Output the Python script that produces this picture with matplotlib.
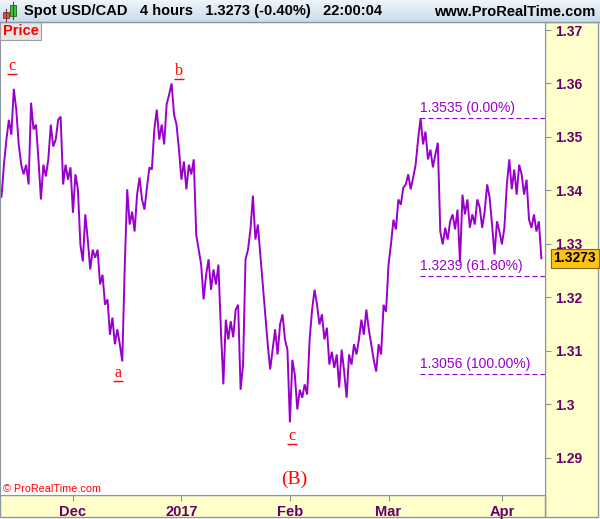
import numpy as np
import matplotlib
matplotlib.use("Agg")
import matplotlib.pyplot as plt
from matplotlib.patches import Rectangle
from matplotlib.colors import LinearSegmentedColormap
import matplotlib.transforms as mtransforms

plt.rcParams['font.family'] = ['Liberation Sans', 'DejaVu Sans']

# USD/CAD, one reading every half trading day (trading days counted from 1 Dec 2016)
price = [
    1.3388, 1.3448, 1.3495, 1.3532, 1.3504, 1.3590, 1.3551, 1.3486, 1.3448, 1.3430,
    1.3448, 1.3411, 1.3564, 1.3514, 1.3523, 1.3458, 1.3383, 1.3448, 1.3426, 1.3458,
    1.3523, 1.3482, 1.3495, 1.3532, 1.3538, 1.3411, 1.3448, 1.3420, 1.3443, 1.3358,
    1.3430, 1.3402, 1.3299, 1.3267, 1.3355, 1.3308, 1.3252, 1.3289, 1.3274, 1.3289,
    1.3224, 1.3242, 1.3186, 1.3196, 1.3130, 1.3162, 1.3112, 1.3140, 1.3112, 1.3080,
    1.3257, 1.3402, 1.3336, 1.3360, 1.3323, 1.3392, 1.3424, 1.3383, 1.3364, 1.3405,
    1.3443, 1.3439, 1.3514, 1.3551, 1.3495, 1.3523, 1.3486, 1.3561, 1.3579, 1.3600,
    1.3542, 1.3523, 1.3476, 1.3420, 1.3454, 1.3402, 1.3448, 1.3430, 1.3458, 1.3317,
    1.3289, 1.3261, 1.3196, 1.3242, 1.3271, 1.3214, 1.3252, 1.3224, 1.3261, 1.3140,
    1.3037, 1.3158, 1.3121, 1.3155, 1.3125, 1.3177, 1.3186, 1.3027, 1.3074, 1.3271,
    1.3289, 1.3327, 1.3390, 1.3308, 1.3336, 1.3280, 1.3224, 1.3168, 1.3112, 1.3065,
    1.3102, 1.3140, 1.3093, 1.3149, 1.3168, 1.3121, 1.3102, 1.2966, 1.3083, 1.3055,
    1.2990, 1.3027, 1.3012, 1.3037, 1.3018, 1.3121, 1.3177, 1.3214, 1.3186, 1.3149,
    1.3168, 1.3121, 1.3143, 1.3074, 1.3098, 1.3068, 1.3093, 1.3031, 1.3102, 1.3061,
    1.3012, 1.3093, 1.3074, 1.3112, 1.3093, 1.3121, 1.3158, 1.3130, 1.3177, 1.3140,
    1.3112, 1.3083, 1.3061, 1.3112, 1.3093, 1.3186, 1.3173, 1.3261, 1.3299, 1.3345,
    1.3327, 1.3383, 1.3373, 1.3405, 1.3411, 1.3430, 1.3402, 1.3424, 1.3448, 1.3495,
    1.3535, 1.3486, 1.3510, 1.3458, 1.3476, 1.3443, 1.3467, 1.3489, 1.3323, 1.3299,
    1.3330, 1.3308, 1.3342, 1.3355, 1.3327, 1.3364, 1.3265, 1.3392, 1.3355, 1.3383,
    1.3330, 1.3355, 1.3336, 1.3383, 1.3368, 1.3330, 1.3360, 1.3411, 1.3387, 1.3336,
    1.3280, 1.3342, 1.3323, 1.3299, 1.3330, 1.3411, 1.3458, 1.3402, 1.3439, 1.3392,
    1.3448, 1.3430, 1.3392, 1.3420, 1.3345, 1.3330, 1.3355, 1.3323, 1.3342, 1.3273,
]
first_day = -14.5
day = first_day + 0.5 * np.arange(len(price))
last_price = 1.3273

month_start = ["2016-12-01", "2017-01-02", "2017-02-01", "2017-03-01", "2017-04-03"]
month_label = ["Dec", "2017", "Feb", "Mar", "Apr"]
month_day = np.busday_count("2016-12-01", month_start)

ytick_vals = [1.29, 1.30, 1.31, 1.32, 1.33, 1.34, 1.35, 1.36, 1.37]
ytick_labels = ["1.29", "1.3", "1.31", "1.32", "1.33", "1.34", "1.35", "1.36", "1.37"]

fib_price = [1.3535, 1.3239, 1.3056]
fib_label = ["1.3535 (0.00%)", "1.3239 (61.80%)", "1.3056 (100.00%)"]
fib_start = 70.4

wave_label = ["c", "b", "a", "c"]
wave_day = [-12.4, 21.5, 9.1, 44.4]
wave_price = [1.3626, 1.3615, 1.3050, 1.2932]

purple = '#9900CC'
axis_txt = '#660066'
edge = '#8C969E'
yellow = '#FFFFCC'

W, H = 600, 519
fig = plt.figure(figsize=(W / 100, H / 100), dpi=100, facecolor='white')

# background: yellow axis panels
bg = fig.add_axes([0, 0, 1, 1])
bg.set_xlim(0, W)
bg.set_ylim(H, 0)
bg.axis('off')
bg.add_patch(Rectangle((545, 22), 53, 495, fc=yellow, ec=edge, lw=1))
bg.add_patch(Rectangle((0, 495), 545, 22, fc=yellow, ec=edge, lw=1))

# main chart
ax = fig.add_axes([0, 24 / H, 545 / W, 473 / H])
ax.set_facecolor('white')
ax.plot(day, price, color=purple, lw=1.4, solid_joinstyle='miter')

xmax = 95.74
ax.hlines(fib_price, fib_start, xmax, colors=purple, lw=0.8, linestyles=(0, (4.5, 2.7)))
for p, s in zip(fib_price, fib_label):
    ax.text(fib_start, p, s, color=purple, fontsize=10, ha='left', va='bottom',
            transform=mtransforms.offset_copy(ax.transData, fig=fig, x=0, y=3, units='dots'))

under = mtransforms.offset_copy(ax.transData, fig=fig, x=0, y=-4, units='dots')
for s, d, p in zip(wave_label, wave_day, wave_price):
    ax.text(d, p, s, color='#FF0000', family='Liberation Serif', fontsize=11.5,
            ha='center', va='baseline')
    ax.plot([d], [p], marker='_', markersize=6.5, mew=1, color='#FF0000', transform=under)

ax.text(44.8, 1.2859, "(B)", color='#FF0000', family='Liberation Serif', fontsize=14,
        ha='center', va='center')
ax.text(3 / 545, 6 / 473, "© ProRealTime.com", color='#FF0000', fontsize=7.8,
        transform=ax.transAxes, ha='left', va='center')

ax.text(553.5 / 545, last_price, "1.3273", transform=ax.get_yaxis_transform(),
        ha='left', va='center', fontsize=10, fontweight='bold', color='black',
        bbox=dict(boxstyle='square,pad=0.18', fc='#FFC20E', ec='#7A6A30', lw=0.8))

ax.set_xlim(-14.8, xmax)
ax.set_ylim(1.2830, 1.3715)
ax.set_yticks(ytick_vals, labels=ytick_labels, fontweight='bold')
ax.set_xticks(month_day, labels=month_label, fontweight='bold')
ax.yaxis.tick_right()
ax.tick_params(axis='y', length=4, color=edge, labelcolor=axis_txt, labelsize=10, pad=3)
ax.tick_params(axis='x', length=4, color=edge, labelcolor=axis_txt, labelsize=10.5, pad=3.5)
for sp in ax.spines.values():
    sp.set_color(edge)

# overlay: header bar, icon and "Price" tab
top = fig.add_axes([0, 0, 1, 1], facecolor='none')
grad = LinearSegmentedColormap.from_list('hdr', ['#EEF5FB', '#C8DBEA'])
top.imshow(np.linspace(0, 1, 30).reshape(-1, 1), cmap=grad, extent=(0, W, 22, 0),
           aspect='auto', interpolation='bilinear')
top.plot([0, W], [22, 22], color=edge, lw=1)
top.set_xlim(0, W)
top.set_ylim(H, 0)
top.axis('off')

top.plot([6, 6], [9, 21], color='#803030', lw=0.8)
top.add_patch(Rectangle((3, 12), 6, 6, fc='#E05050', ec='#803030', lw=0.6))
top.plot([13, 13], [2, 19], color='#206020', lw=0.8)
top.add_patch(Rectangle((10, 5), 6, 11, fc='#40C040', ec='#206020', lw=0.6))

top.text(24, 11.5, "Spot USD/CAD   4 hours   1.3273 (-0.40%)   22:00:04", fontsize=10.5,
         fontweight='bold', color='black', ha='left', va='center')
top.text(595, 11.5, "www.ProRealTime.com", fontsize=10.5, fontweight='bold',
         color='black', ha='right', va='center')

top.add_patch(Rectangle((0, 22), 41, 18, fc='#E6E6E6', ec='#A0A0A0', lw=0.8))
top.text(3, 31, "Price", color='#FF0000', fontsize=10.5, fontweight='bold',
         ha='left', va='center')

fig.savefig("out.png", dpi=100, facecolor='white')
